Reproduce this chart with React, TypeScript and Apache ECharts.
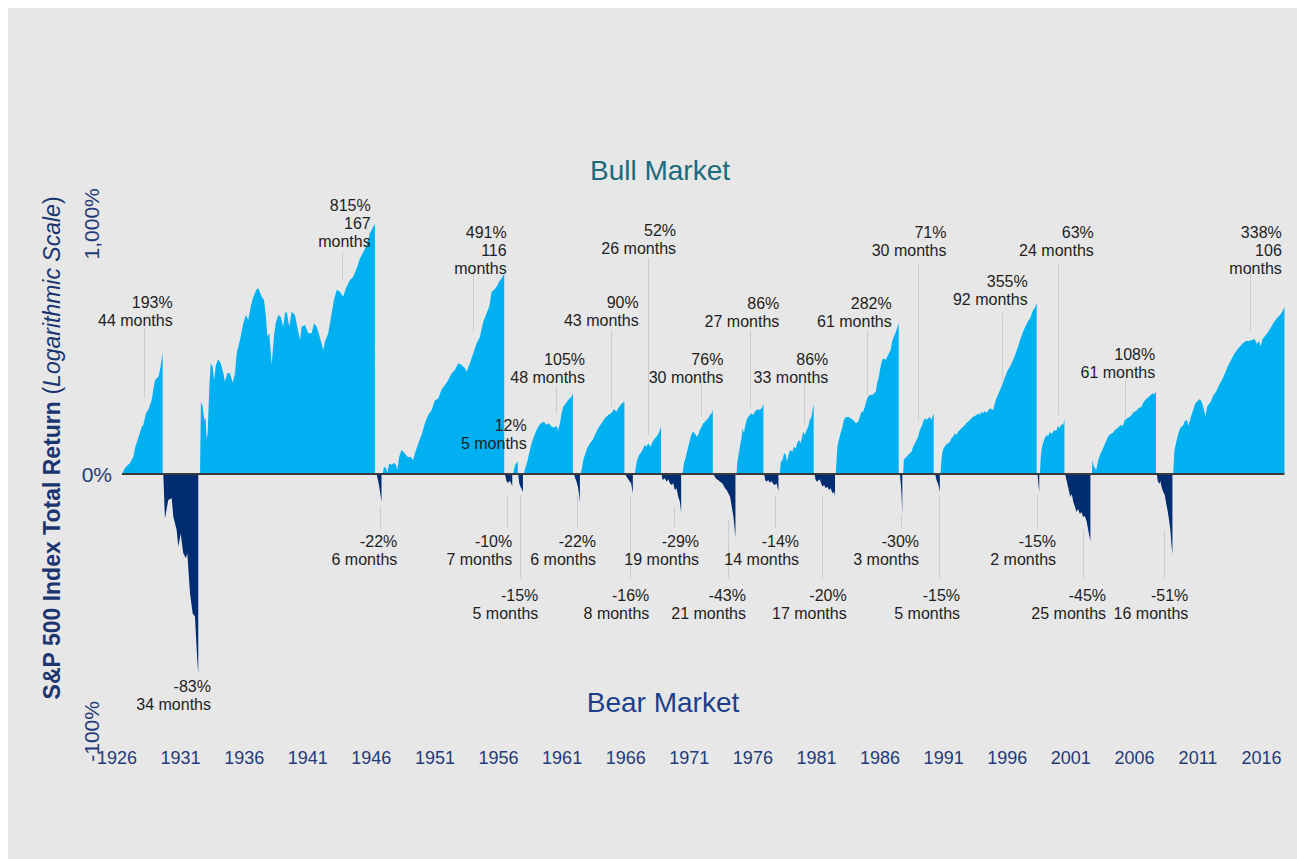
import React, { useEffect, useRef } from "react";
import * as echarts from "echarts";

const FONT = '"Liberation Sans", Arial, Helvetica, sans-serif';
const NAVY = "#1f3b7a";
const BULL_COLOR = "#00b0f0";
const BEAR_COLOR = "#002d72";

const START_YEAR = 1926;
const END_YEAR = 2018;
const xTickYears = [1926, 1931, 1936, 1941, 1946, 1951, 1956, 1961, 1966, 1971, 1976, 1981, 1986, 1991, 1996, 2001, 2006, 2011, 2016];
const yTickLabels = ["-100%", "0%", "1,000%"];

// ---- Bull markets: [year, cumulative total return %] ----
const bull1926 = [[1926.39,0],[1926.63,5.5],[1927.02,10.2],[1927.28,16.2],[1927.42,25.9],[1927.67,37.6],[1927.94,51.6],[1928.07,54.4],[1928.28,71.7],[1928.46,76.2],[1928.73,92.6],[1928.85,110],[1928.99,130],[1929.25,136],[1929.38,151],[1929.59,193]];
const bull1932 = [[1932.53,0],[1932.6,89.7],[1932.74,81.5],[1932.86,61.3],[1932.97,63.7],[1933.05,36],[1933.13,43.4],[1933.26,116.7],[1933.37,166.6],[1933.52,158.6],[1933.63,129.8],[1933.78,162.6],[1933.96,176],[1934.15,166.6],[1934.36,143.9],[1934.49,126.5],[1934.67,143.9],[1934.88,143.9],[1935.1,124.5],[1935.28,143.9],[1935.41,191],[1935.67,227.7],[1935.93,279.8],[1936.14,308.8],[1936.32,291],[1936.51,340],[1936.72,380.8],[1936.98,413],[1937.11,417.6],[1937.38,380.8],[1937.56,366.8],[1937.71,302.7],[1937.82,237.4],[1937.97,247.6],[1938.16,162.6],[1938.34,237.4],[1938.48,279.8],[1938.68,308.8],[1938.87,302.7],[1939.07,268.6],[1939.21,315],[1939.34,321],[1939.55,268.6],[1939.73,321],[1939.99,308.8],[1940.17,268.6],[1940.39,227.7],[1940.52,268.6],[1940.78,274],[1941.04,247.6],[1941.31,247.6],[1941.49,279.8],[1941.7,268.6],[1941.9,242.4],[1942.22,200],[1942.35,222.8],[1942.61,247.6],[1942.88,315],[1943.06,366.8],[1943.27,410],[1943.53,402.5],[1943.79,380.8],[1944,417.6],[1944.32,457],[1944.58,474],[1944.89,527],[1945.1,575],[1945.32,606],[1945.58,649],[1945.89,743],[1946.15,794],[1946.28,815]];
const bull1946 = [[1946.89,0],[1946.99,6.7],[1947.15,5.2],[1947.25,1.2],[1947.41,9.9],[1947.6,8.3],[1947.78,10.5],[1947.93,8.3],[1948.04,3.6],[1948.19,16.6],[1948.38,23.7],[1948.51,21.9],[1948.72,18.3],[1948.9,15.9],[1949.09,16.6],[1949.29,13.2],[1949.43,20.1],[1949.69,31.2],[1949.95,41.2],[1950.21,56.6],[1950.47,68.6],[1950.74,76.3],[1951,92],[1951.26,95],[1951.53,112],[1951.79,120],[1952.05,129.8],[1952.31,143.9],[1952.57,151.3],[1952.83,166.6],[1953.1,162.6],[1953.36,155.2],[1953.49,147.5],[1953.75,166.6],[1954.01,191],[1954.28,218.5],[1954.54,237.4],[1954.8,285],[1955.06,315],[1955.27,340],[1955.46,402.5],[1955.64,410],[1955.85,425],[1956.05,449],[1956.24,466],[1956.45,491]];
const bull1957a = [[1957.16,0],[1957.21,3.6],[1957.31,8.3],[1957.42,9.9],[1957.52,12]];
const bull1957b = [[1957.99,0],[1958.1,5.2],[1958.26,11.5],[1958.41,20.1],[1958.6,31.2],[1958.78,39.1],[1958.99,47.6],[1959.2,54.4],[1959.39,57.5],[1959.57,58.9],[1959.78,54.4],[1959.96,56.6],[1960.17,52.1],[1960.35,51],[1960.57,53],[1960.69,47.6],[1960.83,56.6],[1960.96,71.2],[1961.09,81.5],[1961.3,87],[1961.48,92.6],[1961.61,95.5],[1961.74,98.4],[1961.85,105]];
const bull1962 = [[1962.45,0],[1962.56,5.2],[1962.66,13.2],[1962.79,18.3],[1962.97,25.6],[1963.19,31.2],[1963.4,35.1],[1963.58,41.2],[1963.84,49.9],[1964.1,56.6],[1964.36,63.7],[1964.63,68.6],[1964.89,72.2],[1965.07,77.3],[1965.28,73.5],[1965.41,78.9],[1965.6,84.2],[1965.76,88],[1965.9,90]];
const bull1966 = [[1966.72,0],[1966.8,6.7],[1966.9,13.2],[1967.06,18.3],[1967.25,21.9],[1967.38,25.6],[1967.51,29.3],[1967.64,27.4],[1967.77,31.2],[1967.96,27.4],[1968.11,33.1],[1968.3,37.1],[1968.43,39.1],[1968.59,43.4],[1968.69,47.6],[1968.78,52]];
const bull1970 = [[1970.47,0],[1970.58,9.9],[1970.73,16.6],[1970.92,27.4],[1971.11,39.1],[1971.26,45.4],[1971.44,43.4],[1971.57,39.1],[1971.7,41.2],[1971.83,47.6],[1971.97,52.1],[1972.1,56.6],[1972.23,58.9],[1972.36,61.3],[1972.49,63.7],[1972.63,68.6],[1972.76,71.2],[1972.85,76]];
const bull1974 = [[1974.72,0],[1974.77,9.9],[1974.85,16.6],[1974.98,27.4],[1975.12,39.1],[1975.19,49.9],[1975.3,43.4],[1975.38,52.1],[1975.51,61.3],[1975.64,66.1],[1975.77,68.6],[1975.9,71.2],[1976.02,68.6],[1976.16,73.5],[1976.29,76.3],[1976.42,77.3],[1976.55,76.3],[1976.68,78.9],[1976.83,86]];
const bull1978 = [[1978.11,0],[1978.2,11.5],[1978.33,13.2],[1978.46,20.1],[1978.59,18.3],[1978.69,11.5],[1978.83,20.1],[1978.96,23.7],[1979.12,21.9],[1979.22,27.4],[1979.38,25.6],[1979.48,31.2],[1979.64,35.1],[1979.75,31.2],[1979.88,39.1],[1979.96,45.4],[1980.09,41.2],[1980.22,47.6],[1980.35,52.1],[1980.48,61.3],[1980.61,66.1],[1980.69,76.3],[1980.78,86]];
const bull1982 = [[1982.52,0],[1982.58,13.2],[1982.65,27.4],[1982.76,35.1],[1982.89,43.4],[1983.05,52.1],[1983.15,61.3],[1983.31,65.2],[1983.49,66.1],[1983.68,63.7],[1983.89,61.3],[1984.1,56.6],[1984.28,58.9],[1984.41,66.1],[1984.54,73.5],[1984.67,73.5],[1984.81,81.5],[1984.94,92.6],[1985.06,98.4],[1985.2,101.4],[1985.41,101.4],[1985.54,104.4],[1985.67,107.1],[1985.77,123.2],[1985.91,136.6],[1986.04,158.6],[1986.17,174.4],[1986.3,178.6],[1986.43,174.4],[1986.56,182.7],[1986.69,191],[1986.83,200],[1986.95,222.8],[1987.08,237.4],[1987.21,247.6],[1987.34,263.4],[1987.47,282]];
const bull1987 = [[1987.82,0],[1987.87,13.2],[1987.97,14.9],[1988.08,16.6],[1988.21,18.3],[1988.34,20.1],[1988.47,21.9],[1988.6,27.4],[1988.74,31.2],[1988.87,35.1],[1989,39.1],[1989.13,47.6],[1989.26,52.1],[1989.39,58.9],[1989.52,63.7],[1989.65,61.3],[1989.78,63.7],[1989.91,66.1],[1990.04,61.3],[1990.12,66.1],[1990.22,71]];
const bull1990 = [[1990.75,0],[1990.83,13.2],[1990.91,21.9],[1991.01,25.6],[1991.17,29.3],[1991.35,31.2],[1991.49,33.1],[1991.62,37.1],[1991.75,39.1],[1991.88,43.4],[1992.01,41.2],[1992.14,45.4],[1992.27,47.6],[1992.41,49.9],[1992.53,52.1],[1992.67,54.4],[1992.8,57.5],[1992.93,58.9],[1993.06,61.3],[1993.19,63.7],[1993.32,66.1],[1993.45,67.1],[1993.59,68.6],[1993.71,71.2],[1993.84,68.6],[1993.97,73.5],[1994.1,71.2],[1994.24,74.7],[1994.37,72.2],[1994.5,75.1],[1994.63,78.9],[1994.89,76.3],[1995.1,92.6],[1995.5,114],[1995.74,129.8],[1996.01,148.9],[1996.29,162.6],[1996.54,180.3],[1996.76,200],[1997.07,233.4],[1997.3,257.6],[1997.6,284.3],[1997.81,298],[1998.04,327],[1998.17,335],[1998.32,355]];
const bull1998 = [[1998.57,0],[1998.64,16.2],[1998.7,24.8],[1998.84,32.8],[1998.96,37.6],[1999.11,41.2],[1999.23,40],[1999.35,45],[1999.5,42.5],[1999.7,47.6],[1999.86,46.4],[1999.98,53],[2000.13,50.3],[2000.29,55.7],[2000.41,54.4],[2000.5,63]];
const bull2002 = [[2002.66,0],[2002.7,13.2],[2002.8,7.4],[2003,3.6],[2003.16,13.2],[2003.32,19.4],[2003.51,24.8],[2003.75,32.8],[2003.95,40],[2004.14,42.5],[2004.3,43.8],[2004.46,47.6],[2004.69,50.3],[2004.93,54.4],[2005.09,53],[2005.24,61.3],[2005.48,64.2],[2005.71,67.1],[2005.95,73.2],[2006.14,74.7],[2006.34,79.5],[2006.54,81.1],[2006.73,89.2],[2006.93,94.3],[2007.12,97.9],[2007.28,101.4],[2007.44,104],[2007.6,103.1],[2007.7,108]];
const bull2009 = [[2009.06,0],[2009.12,18],[2009.17,25],[2009.33,35.1],[2009.49,45],[2009.65,51.6],[2009.81,53],[2009.97,59.9],[2010.13,61.3],[2010.25,53],[2010.41,64.2],[2010.57,73.2],[2010.77,85.9],[2010.96,90.9],[2011.16,94.3],[2011.32,87.6],[2011.48,76.3],[2011.6,67.1],[2011.71,81.1],[2011.87,85.9],[2012.03,90.9],[2012.22,101.4],[2012.42,106.7],[2012.66,119.9],[2012.89,129.8],[2013.13,144.5],[2013.36,160.1],[2013.6,174.4],[2013.84,189],[2014.07,200],[2014.31,210.1],[2014.54,218.9],[2014.78,224.9],[2015.01,224.9],[2015.25,227.7],[2015.45,230.6],[2015.64,216],[2015.8,224.9],[2015.92,210.1],[2016.08,230.6],[2016.27,239.6],[2016.51,251.4],[2016.75,267.8],[2016.98,284.3],[2017.22,298.1],[2017.45,308.8],[2017.61,319.7],[2017.8,338]];

// ---- Bear markets: [year, cumulative total return %] ----
const bear1929 = [[1929.64,0],[1929.77,-32.5],[1930.03,-20.6],[1930.3,-19.4],[1930.43,-31.5],[1930.69,-39.1],[1930.82,-47.5],[1931.01,-40.9],[1931.21,-50.4],[1931.42,-52.6],[1931.53,-50.4],[1931.74,-65.2],[1931.95,-70.9],[1932.13,-71.7],[1932.31,-80.7],[1932.39,-83]];
const bear1946 = [[1946.41,0],[1946.52,-5.2],[1946.6,-9.3],[1946.7,-15.7],[1946.8,-22]];
const bear1956 = [[1956.5,0],[1956.64,-6.6],[1956.76,-7.4],[1956.9,-5.8],[1957.08,-10]];
const bear1957 = [[1957.55,0],[1957.63,-7.9],[1957.74,-11.1],[1957.84,-12.7],[1957.92,-15]];
const bear1961 = [[1961.93,0],[1962.03,-3.7],[1962.14,-6.6],[1962.24,-10.6],[1962.32,-15.7],[1962.4,-22]];
const bear1966 = [[1965.96,0],[1966.07,-2.4],[1966.2,-4.6],[1966.33,-6.6],[1966.43,-7.9],[1966.56,-16]];
const bear1968 = [[1968.82,0],[1968.9,-5.2],[1969.08,-3.7],[1969.22,-6.6],[1969.35,-4.6],[1969.47,-7.9],[1969.61,-9.3],[1969.73,-7.9],[1969.87,-13.2],[1970,-11.9],[1970.13,-18.2],[1970.26,-21.8],[1970.36,-29]];
const bear1973 = [[1972.88,0],[1973.01,-2.4],[1973.15,-4.6],[1973.28,-5.2],[1973.41,-6.6],[1973.55,-7.4],[1973.68,-9.3],[1973.81,-11.9],[1973.94,-13.2],[1974.07,-15.7],[1974.21,-18.2],[1974.34,-25.2],[1974.47,-31.5],[1974.55,-37.3],[1974.63,-43]];
const bear1976 = [[1976.89,0],[1976.97,-5.2],[1977.07,-6.6],[1977.2,-5.2],[1977.34,-7.4],[1977.47,-6],[1977.6,-8.5],[1977.73,-9.3],[1977.86,-7.9],[1978.01,-14]];
const bear1980 = [[1980.85,0],[1980.93,-5.2],[1981.06,-6.6],[1981.22,-4.6],[1981.33,-6.6],[1981.46,-10.6],[1981.6,-9.3],[1981.73,-11.9],[1981.86,-10.6],[1981.99,-13.2],[1982.12,-11.9],[1982.25,-15.7],[1982.38,-14.5],[1982.46,-17.5]];
const bear1987 = [[1987.56,0],[1987.64,-9.3],[1987.69,-17],[1987.75,-30]];
const bear1990 = [[1990.33,0],[1990.44,-5.2],[1990.54,-7.9],[1990.62,-10.6],[1990.7,-15]];
const bear1998 = [[1998.38,0],[1998.46,-9.3],[1998.52,-15]];
const bear2000 = [[2000.55,0],[2000.66,-5.2],[2000.8,-11.6],[2000.96,-18.4],[2001.08,-16.2],[2001.2,-22],[2001.31,-24.7],[2001.45,-28.6],[2001.57,-26.7],[2001.71,-29.8],[2001.84,-28.6],[2001.97,-31.7],[2002.1,-31.1],[2002.24,-34.1],[2002.37,-39.1],[2002.46,-42.3],[2002.54,-45]];
const bear2007 = [[2007.76,0],[2007.84,-6],[2007.96,-8.5],[2008.04,-6],[2008.16,-11.6],[2008.27,-14.7],[2008.39,-17],[2008.51,-23.3],[2008.63,-28.6],[2008.75,-34.6],[2008.84,-40.2],[2008.92,-46.7],[2008.99,-51]];

const bullSegments = [bull1926, bull1932, bull1946, bull1957a, bull1957b, bull1962, bull1966, bull1970, bull1974, bull1978, bull1982, bull1987, bull1990, bull1998, bull2002, bull2009];
const bearSegments = [bear1929, bear1946, bear1956, bear1957, bear1961, bear1966, bear1968, bear1973, bear1976, bear1980, bear1987, bear1990, bear1998, bear2000, bear2007];

// ---- Annotation texts ----
const bullLabels = ["193%\n44 months", "815%\n167\nmonths", "491%\n116\nmonths", "12%\n5 months", "105%\n48 months", "90%\n43 months", "52%\n26 months", "76%\n30 months", "86%\n27 months", "86%\n33 months", "282%\n61 months", "71%\n30 months", "355%\n92 months", "63%\n24 months", "108%\n61 months", "338%\n106\nmonths"];
const bearLabels = ["-83%\n34 months", "-22%\n6 months", "-10%\n7 months", "-15%\n5 months", "-22%\n6 months", "-16%\n8 months", "-29%\n19 months", "-43%\n21 months", "-14%\n14 months", "-20%\n17 months", "-30%\n3 months", "-15%\n5 months", "-15%\n2 months", "-45%\n25 months", "-51%\n16 months"];

// ---- Layout (positions in axis units: year, log10(1+r)) ----
const bullLabelAt = [[1930.38,0.658],[1945.95,1.032],[1956.64,0.93],[1958.22,0.188],[1962.8,0.442],[1967.02,0.659],[1969.96,0.935],[1973.68,0.441],[1978.08,0.657],[1981.93,0.441],[1986.92,0.657],[1991.22,0.928],[1997.61,0.742],[2002.81,0.928],[2007.64,0.458],[2017.59,0.928]];
const bearLabelAt = [[1933.39,-0.819],[1948.04,-0.26],[1957.08,-0.26],[1959.13,-0.469],[1963.67,-0.26],[1967.86,-0.469],[1971.77,-0.26],[1975.46,-0.469],[1979.63,-0.26],[1983.38,-0.469],[1989.07,-0.26],[1992.29,-0.469],[1999.84,-0.26],[2003.77,-0.469],[2010.24,-0.469]];
const leaderLines = [
  [1928.15,0.562,0.296],[1943.72,0.855,0.746],[1954.02,0.778,0.547],[1960.5,0.336,0.233],[1964.85,0.554,0.259],[1967.78,0.831,0.15],[1971.92,0.349,0.22],[1975.78,0.554,0.259],[1980.05,0.349,0.188],[1984.95,0.554,0.304],[1988.98,0.808,0.202],[1995.58,0.618,0.363],[2000.03,0.808,0.228],[2005.26,0.363,0.215],[2015.1,0.777,0.55],
  [1946.68,-0.126,-0.209],[1956.64,-0.081,-0.209],[1957.69,-0.081,-0.401],[1962.15,-0.081,-0.209],[1966.34,-0.081,-0.401],[1969.82,-0.126,-0.204],[1974.07,-0.177,-0.401],[1977.74,-0.081,-0.209],[1981.46,-0.081,-0.401],[1987.65,-0.158,-0.209],[1990.64,-0.081,-0.401],[1998.32,-0.081,-0.209],[2001.94,-0.215,-0.401],[2008.33,-0.215,-0.401]
];
const yRotLabelAt = [-0.99, 0.962];

const lg = (pct: number) => Math.log10(1 + pct / 100);
const toXY = (seg: number[][]) => seg.map(([yr, p]) => [yr - START_YEAR, lg(p)]);

function areaSeries(seg: number[][], color: string) {
  return {
    type: "line",
    data: toXY(seg),
    symbol: "none",
    showSymbol: false,
    lineStyle: { width: 0, color },
    areaStyle: { color, opacity: 1 },
    silent: true,
    emphasis: { disabled: true },
    z: 2,
  };
}

function labelSeries(texts: string[], at: number[][]) {
  return {
    type: "custom",
    silent: true,
    z: 6,
    data: at.map(([yr, lv], i) => [yr - START_YEAR, lv, i]),
    renderItem: (params: any, api: any) => {
      const p = api.coord([api.value(0), api.value(1)]);
      const i = api.value(2);
      return {
        type: "text",
        x: p[0],
        y: p[1] - 9,
        style: {
          text: texts[i],
          fill: "#1e1e1e",
          fontSize: 16,
          fontFamily: FONT,
          lineHeight: 18,
          align: "right",
          textAlign: "right",
          verticalAlign: "top",
          textVerticalAlign: "top",
        },
      };
    },
  };
}

export default function App() {
  const ref = useRef<HTMLDivElement>(null);
  useEffect(() => {
    if (!ref.current) return;
    const chart = echarts.init(ref.current, undefined, { renderer: "svg" });
    const series: any[] = [];
    bullSegments.forEach((s) => series.push(areaSeries(s, BULL_COLOR)));
    bearSegments.forEach((s) => series.push(areaSeries(s, BEAR_COLOR)));
    const firstX = bullSegments[0][0][0] - START_YEAR;
    const lastSeg = bullSegments[bullSegments.length - 1];
    const lastX = lastSeg[lastSeg.length - 1][0] - START_YEAR;
    series.push({
      type: "line",
      data: [[firstX, 0], [lastX, 0]],
      symbol: "none",
      lineStyle: { color: "#3a3a3a", width: 2 },
      silent: true,
      z: 4,
    });
    series.push({
      type: "custom",
      silent: true,
      z: 3,
      data: leaderLines.map(([yr, a, b]) => [yr - START_YEAR, a, b]),
      renderItem: (params: any, api: any) => {
        const p1 = api.coord([api.value(0), api.value(1)]);
        const p2 = api.coord([api.value(0), api.value(2)]);
        const x = Math.round(p1[0]) + 0.5;
        return {
          type: "line",
          shape: { x1: x, y1: p1[1], x2: x, y2: p2[1] },
          style: { stroke: "#cdcdcd", lineWidth: 1 },
        };
      },
    });
    series.push(labelSeries(bullLabels, bullLabelAt));
    series.push(labelSeries(bearLabels, bearLabelAt));

    const option: any = {
      animation: false,
      backgroundColor: "#e7e7e7",
      grid: { left: 109, right: 10, top: 206, bottom: 125 },
      xAxis: {
        type: "value",
        min: 0,
        max: END_YEAR - START_YEAR,
        axisLine: { show: false },
        axisTick: { show: false },
        splitLine: { show: false },
        axisLabel: {
          customValues: xTickYears.map((y) => y - START_YEAR),
          formatter: (v: number) => String(Math.round(v) + START_YEAR),
          color: NAVY,
          fontSize: 18,
          fontFamily: FONT,
          margin: 15,
        },
      },
      yAxis: [
        {
          type: "value",
          min: -1,
          max: 1,
          axisLine: { show: false },
          axisTick: { show: false },
          splitLine: { show: false },
          axisLabel: {
            customValues: [0],
            formatter: () => yTickLabels[1],
            color: NAVY,
            fontSize: 21,
            fontFamily: FONT,
            margin: 5,
          },
        },
        {
          type: "value",
          min: -1,
          max: 1,
          position: "left",
          axisLine: { show: false },
          axisTick: { show: false },
          splitLine: { show: false },
          axisLabel: {
            customValues: yRotLabelAt,
            rotate: 90,
            formatter: (v: number) => (v < 0 ? yTickLabels[0] : yTickLabels[2]),
            color: NAVY,
            fontSize: 21,
            fontFamily: FONT,
            margin: 15,
          },
        },
      ],
      graphic: [
        {
          type: "text",
          x: 652,
          y: 162,
          silent: true,
          style: {
            text: "Bull Market",
            fill: "#1a6b7d",
            fontSize: 28,
            fontFamily: FONT,
            align: "center",
            textAlign: "center",
            verticalAlign: "middle",
            textVerticalAlign: "middle",
          },
        },
        {
          type: "text",
          x: 655,
          y: 694,
          silent: true,
          style: {
            text: "Bear Market",
            fill: "#1c3f8c",
            fontSize: 28,
            fontFamily: FONT,
            align: "center",
            textAlign: "center",
            verticalAlign: "middle",
            textVerticalAlign: "middle",
          },
        },
        {
          type: "text",
          x: 44,
          y: 440,
          rotation: Math.PI / 2,
          silent: true,
          style: {
            text: "{b|S&P 500 Index Total Return }{n|(}{i|Logarithmic Scale}{n|)}",
            align: "center",
            textAlign: "center",
            verticalAlign: "middle",
            textVerticalAlign: "middle",
            fill: "#1a3570",
            rich: {
              b: { fontSize: 23, fontWeight: "bold", fontFamily: FONT, fill: "#1a3570", color: "#1a3570" },
              n: { fontSize: 23, fontFamily: FONT, fill: "#1a3570", color: "#1a3570" },
              i: { fontSize: 23, fontStyle: "italic", fontFamily: FONT, fill: "#1a3570", color: "#1a3570" },
            },
          },
        },
      ],
      series,
    };
    chart.setOption(option);
    return () => chart.dispose();
  }, []);
  return (
    <div
      ref={ref}
      style={{ position: "absolute", left: 8, top: 8, width: 1289, height: 851 }}
    />
  );
}
